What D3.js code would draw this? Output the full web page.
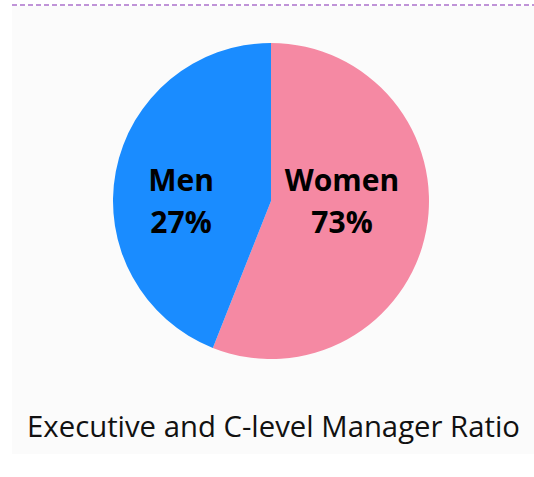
<!DOCTYPE html>
<html>
<head>
<meta charset="utf-8">
<script src="https://cdn.jsdelivr.net/npm/d3@7/dist/d3.min.js"></script>
<style>
  html, body { margin: 0; padding: 0; background: #ffffff; }
  svg { display: block; }
</style>
</head>
<body>
<svg id="chart" width="534" height="477"></svg>
<script>
// Data
const categories = ["Women", "Men"];
const sliceValues = [56, 44];          // slice sizes as drawn in the picture
const percentLabels = ["73%", "27%"];  // label texts as printed
const colors = ["#f589a3", "#1a8cff"];
const title = "Executive and C-level Manager Ratio";

const svg = d3.select("#chart");
const W = 534, H = 477;

// panel background
svg.append("rect")
  .attr("x", 12).attr("y", 6)
  .attr("width", W - 12).attr("height", 448)
  .attr("fill", "#fbfbfb");

// dashed top rule
svg.append("line")
  .attr("x1", 12).attr("x2", W)
  .attr("y1", 5).attr("y2", 5)
  .attr("stroke", "#c094d8")
  .attr("stroke-width", 2)
  .attr("stroke-dasharray", "5,3");

const cx = 271, cy = 201, r = 158;
const g = svg.append("g").attr("transform", `translate(${cx},${cy})`);

const data = categories.map((c, i) => ({ name: c, value: sliceValues[i], label: percentLabels[i], color: colors[i] }));

const pie = d3.pie().sort(null).value(d => d.value);
const arc = d3.arc().innerRadius(0).outerRadius(r);
const arcs = pie(data);

g.selectAll("path.slice")
  .data(arcs)
  .enter().append("path")
  .attr("class", "slice")
  .attr("d", arc)
  .attr("fill", d => d.data.color);

// label placement (horizontal offsets from centre)
const labelDx = { "Women": 71, "Men": -90 };
const lbl = g.selectAll("text.lbl")
  .data(arcs)
  .enter().append("text")
  .attr("class", "lbl")
  .attr("text-anchor", "middle")
  .attr("font-family", "'Open Sans', sans-serif")
  .attr("font-weight", "bold")
  .attr("font-size", 30)
  .attr("fill", "#000");
lbl.append("tspan")
  .attr("x", d => labelDx[d.data.name])
  .attr("y", -10)
  .text(d => d.data.name);
lbl.append("tspan")
  .attr("x", d => labelDx[d.data.name])
  .attr("y", 32)
  .text(d => d.data.label);

svg.append("text")
  .attr("x", 273.5).attr("y", 437)
  .attr("text-anchor", "middle")
  .attr("font-family", "'Open Sans', sans-serif")
  .attr("font-size", 29.3)
  .attr("fill", "#111")
  .text(title);
</script>
</body>
</html>
